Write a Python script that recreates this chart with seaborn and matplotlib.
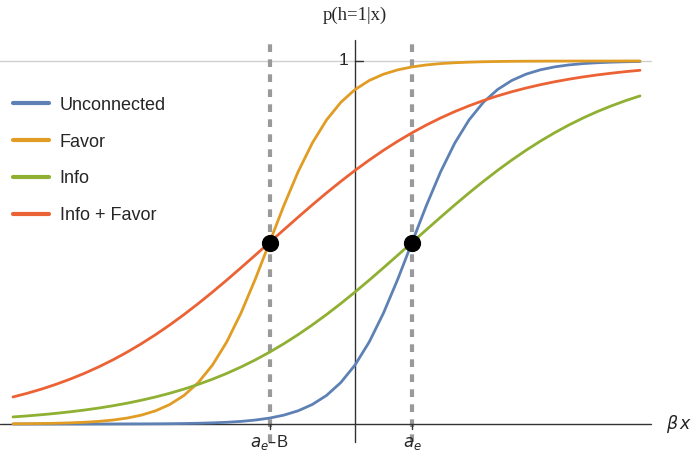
import numpy as np
import pandas as pd
import matplotlib
matplotlib.use("Agg")
import matplotlib.pyplot as plt
import seaborn as sns

# beta*x positions (a_e = 1, a_e - B = -1.5), step 0.25
x = [-6.0, -5.75, -5.5, -5.25, -5.0, -4.75, -4.5, -4.25, -4.0, -3.75, -3.5, -3.25,
     -3.0, -2.75, -2.5, -2.25, -2.0, -1.75, -1.5, -1.25, -1.0, -0.75, -0.5, -0.25,
     0.0, 0.25, 0.5, 0.75, 1.0, 1.25, 1.5, 1.75, 2.0, 2.25, 2.5, 2.75, 3.0, 3.25,
     3.5, 3.75, 4.0, 4.25, 4.5, 4.75, 5.0]

# p(h=1|x)
unconnected = [0.0, 0.0, 0.0, 0.0, 0.0001, 0.0001, 0.0001, 0.0002, 0.0003, 0.0004, 0.0006, 0.0009,
               0.0014, 0.0021, 0.0032, 0.0048, 0.0072, 0.0109, 0.0163, 0.0244, 0.0363, 0.0537,
               0.0787, 0.1141, 0.1625, 0.2262, 0.3058, 0.3989, 0.5, 0.6011, 0.6942, 0.7738,
               0.8375, 0.8859, 0.9213, 0.9463, 0.9637, 0.9756, 0.9837, 0.9891, 0.9928, 0.9952,
               0.9968, 0.9979, 0.9986]
favor = [0.0006, 0.0009, 0.0014, 0.0021, 0.0032, 0.0048, 0.0072, 0.0109, 0.0163, 0.0244, 0.0363,
         0.0537, 0.0787, 0.1141, 0.1625, 0.2262, 0.3058, 0.3989, 0.5, 0.6011, 0.6942, 0.7738,
         0.8375, 0.8859, 0.9213, 0.9463, 0.9637, 0.9756, 0.9837, 0.9891, 0.9928, 0.9952, 0.9968,
         0.9979, 0.9986, 0.9991, 0.9994, 0.9996, 0.9997, 0.9998, 0.9999, 0.9999, 0.9999, 1.0, 1.0]
info = [0.0195, 0.0223, 0.0256, 0.0293, 0.0336, 0.0384, 0.0439, 0.0502, 0.0573, 0.0654, 0.0745,
        0.0847, 0.0962, 0.1091, 0.1235, 0.1394, 0.1571, 0.1765, 0.1978, 0.2210, 0.2460, 0.2729,
        0.3015, 0.3318, 0.3635, 0.3965, 0.4305, 0.4651, 0.5, 0.5349, 0.5695, 0.6035, 0.6365,
        0.6682, 0.6985, 0.7271, 0.7540, 0.7790, 0.8022, 0.8235, 0.8429, 0.8606, 0.8765, 0.8909,
        0.9038]
info_favor = [0.0745, 0.0847, 0.0962, 0.1091, 0.1235, 0.1394, 0.1571, 0.1765, 0.1978, 0.2210,
              0.2460, 0.2729, 0.3015, 0.3318, 0.3635, 0.3965, 0.4305, 0.4651, 0.5, 0.5349, 0.5695,
              0.6035, 0.6365, 0.6682, 0.6985, 0.7271, 0.7540, 0.7790, 0.8022, 0.8235, 0.8429,
              0.8606, 0.8765, 0.8909, 0.9038, 0.9153, 0.9255, 0.9346, 0.9427, 0.9498, 0.9561,
              0.9616, 0.9664, 0.9707, 0.9744]

series = ["Unconnected", "Favor", "Info", "Info + Favor"]
colors = ["#5e81b5", "#e19c24", "#8fb032", "#eb6235"]

a_e = 1.0
a_e_minus_B = -1.5
cross_x = [a_e_minus_B, a_e]
cross_y = [0.5, 0.5]

df = pd.DataFrame({
    "x": x * 4,
    "p": unconnected + favor + info + info_favor,
    "curve": np.repeat(series, len(x)),
})

sns.set_theme(style="white")
plt.rcParams["font.family"] = ["Liberation Sans", "DejaVu Sans"]

fig = plt.figure(figsize=(6.94, 4.54), dpi=100)
ax = fig.add_axes([0, 0, 1, 1])

# dashed guides at a_e - B and a_e
for xv in cross_x:
    ax.plot([xv, xv], [-0.05, 1.055], color="#9a9a9a", lw=3.0,
            dashes=(1.85, 1.75), zorder=1)

# light line at p = 1
ax.plot([-6.23, 5.2], [1, 1], color="#d0d0d0", lw=1, zorder=0)

sns.lineplot(data=df, x="x", y="p", hue="curve", palette=dict(zip(series, colors)),
             hue_order=series, lw=2.0, ax=ax, zorder=3)

ax.scatter(cross_x, cross_y, s=130, color="black", zorder=5)

# axes through origin
ax.plot([-6.23, 5.2], [0, 0], color="#333333", lw=1, zorder=2)
ax.plot([0, 0], [-0.05, 1.058], color="#333333", lw=1, zorder=2)
ax.plot([0, 0.14], [1, 1], color="#333333", lw=1, zorder=2)
for xv in cross_x:
    ax.plot([xv, xv], [0, -0.015], color="#333333", lw=1, zorder=2)

ax.text(-0.12, 1.0, "1", ha="right", va="center", fontsize=12.5)
ax.text(a_e_minus_B, -0.063, "$a_e$–B", ha="center", va="baseline", fontsize=12)
ax.text(a_e, -0.063, "$a_e$", ha="center", va="baseline", fontsize=12)
ax.text(5.45, 0.0, r"$\beta\,x$", ha="left", va="center", fontsize=12.5)
ax.text(0.0, 1.125, "p(h=1|x)", ha="center", va="center", fontsize=13.5,
        family=["Liberation Serif", "DejaVu Serif"])

ax.set_xlim(-6.228, 5.947)
ax.set_ylim(-0.0826, 1.168)
ax.axis("off")

leg = ax.legend(loc="upper left", bbox_to_anchor=(0.0055, 0.807), frameon=False, borderpad=0,
                fontsize=13, handlelength=2.0, handletextpad=0.6, labelspacing=1.1)
for line in leg.get_lines():
    line.set_linewidth(3)

fig.savefig("out.png", dpi=100)
